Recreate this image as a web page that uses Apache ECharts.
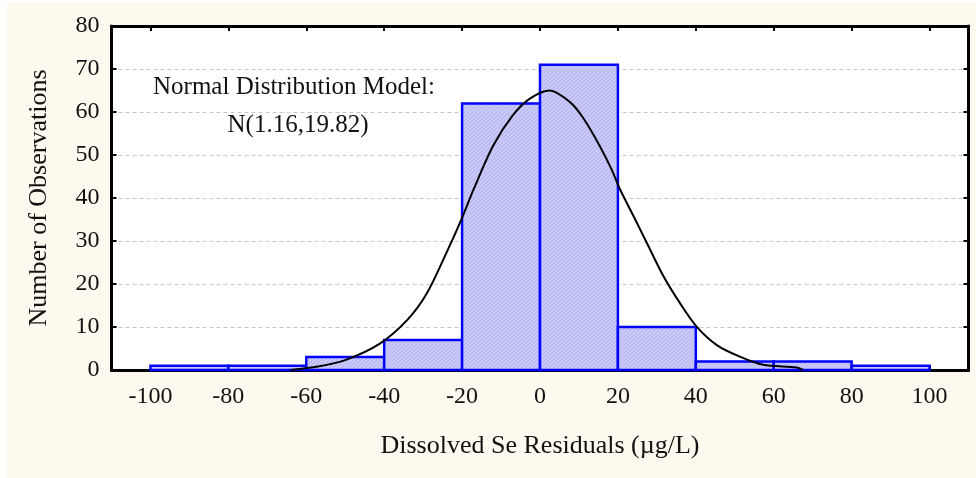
<!DOCTYPE html>
<html>
<head>
<meta charset="utf-8">
<script src="https://cdn.jsdelivr.net/npm/echarts@6/dist/echarts.min.js"></script>
<style>
  html, body { margin: 0; padding: 0; background: #ffffff; }
  #chart { position: absolute; left: 7px; top: 2px; width: 969px; height: 476px; }
</style>
</head>
<body>
<div id="chart"></div>
<script>
// histogram bins (lower edge, width 20) and counts
const binStart = [-100, -80, -60, -40, -20, 0, 20, 40, 60, 80];
const binWidth = 20;
const binCount = [1, 1, 3, 7, 62, 71, 10, 2, 2, 1];

// fitted normal curve
const curveX = [-64, -57, -50, -41, -34, -29, -24, -20, -17, -12, -7, -2.6, 2.5, 7.7, 11.1, 15.4, 18.4, 20.5, 24, 27.4, 31.7, 35.9, 40.2, 45.4, 51.3, 57.3, 65.9, 67.5];
const curveY = [0, 0.8, 2.3, 6.2, 11.7, 17.9, 27.3, 35.4, 42.1, 52.2, 59.2, 63.1, 65, 62.3, 58.6, 52.0, 46.6, 42.1, 35.8, 29.6, 21.8, 15.6, 10.1, 5.8, 3.1, 1.2, 0.6, 0];

const xTicks = [-100, -80, -60, -40, -20, 0, 20, 40, 60, 80, 100];

const serif = '"Liberation Serif", "DejaVu Serif", serif';

// fine diagonal hatch used by the bars
function hatch() {
  const c = document.createElement('canvas');
  c.width = 4; c.height = 4;
  const g = c.getContext('2d');
  g.fillStyle = '#cacafa';
  g.fillRect(0, 0, 4, 4);
  g.strokeStyle = '#b0b0f0';
  g.lineWidth = 1;
  g.beginPath();
  g.moveTo(0, 4); g.lineTo(4, 0);
  g.stroke();
  return c;
}

const bars = binStart.map((s, i) => [s, s + binWidth, binCount[i]]);
const curve = curveX.map((x, i) => [x, curveY[i]]);

const axisLine = { show: true, onZero: false, lineStyle: { color: '#000', width: 3 } };
const tickStyle = { color: '#000', width: 2 };

const myChart = echarts.init(document.getElementById('chart'));
myChart.setOption({
  backgroundColor: '#fef9ee',
  animation: false,
  grid: { left: 104.5, right: 7.5, top: 24, bottom: 108, backgroundColor: '#ffffff', show: true, borderWidth: 0 },
  xAxis: [
    {
      type: 'value', min: -110, max: 110,
      name: 'Dissolved Se Residuals (\u00b5g/L)',
      nameLocation: 'middle', nameGap: 63,
      nameTextStyle: { fontFamily: serif, fontSize: 26, color: '#111' },
      axisLine: axisLine,
      axisTick: { inside: true, length: 5, customValues: xTicks, lineStyle: tickStyle },
      axisLabel: { customValues: xTicks, margin: 15, fontFamily: serif, fontSize: 24, color: '#111' },
      splitLine: { show: false }
    },
    {
      type: 'value', min: -110, max: 110, position: 'top',
      axisLine: axisLine,
      axisTick: { inside: true, length: 5, customValues: xTicks, lineStyle: tickStyle },
      axisLabel: { show: false },
      splitLine: { show: false }
    }
  ],
  yAxis: [
    {
      type: 'value', min: 0, max: 80, interval: 10,
      name: 'Number of Observations',
      nameLocation: 'middle', nameGap: 59,
      nameTextStyle: { fontFamily: serif, fontSize: 26, color: '#111' },
      axisLine: axisLine,
      axisTick: { show: true, inside: true, length: 5, lineStyle: tickStyle },
      axisLabel: { margin: 12, fontFamily: serif, fontSize: 24, color: '#111' },
      splitLine: { show: true, lineStyle: { color: '#c8c8c8', type: [4, 3], width: 1 } }
    },
    {
      type: 'value', min: 0, max: 80, interval: 10, position: 'right',
      axisLine: axisLine,
      axisTick: { show: true, inside: true, length: 5, lineStyle: tickStyle },
      axisLabel: { show: false },
      splitLine: { show: false }
    }
  ],
  graphic: [
    {
      type: 'text', z: 100,
      style: {
        x: 287, y: 85,
        text: 'Normal Distribution Model:',
        font: '25px ' + serif, fill: '#111',
        align: 'center', verticalAlign: 'middle'
      }
    },
    {
      type: 'text', z: 100,
      style: {
        x: 291, y: 123,
        text: 'N(1.16,19.82)',
        font: '25px ' + serif, fill: '#111',
        align: 'center', verticalAlign: 'middle'
      }
    }
  ],
  series: [
    {
      type: 'custom',
      xAxisIndex: 0, yAxisIndex: 0,
      data: bars,
      encode: { x: [0, 1], y: 2 },
      renderItem(params, api) {
        const p0 = api.coord([api.value(0), api.value(2)]);
        const p1 = api.coord([api.value(1), 0]);
        return {
          type: 'rect',
          shape: { x: p0[0], y: p0[1], width: p1[0] - p0[0], height: p1[1] - p0[1] },
          style: { fill: { image: hatch(), repeat: 'repeat' }, stroke: '#0000ff', lineWidth: 2.5 }
        };
      },
      z: 2
    },
    {
      type: 'line',
      xAxisIndex: 0, yAxisIndex: 0,
      data: curve,
      symbol: 'none',
      smooth: 0.3,
      lineStyle: { color: '#000', width: 2 },
      z: 3
    }
  ]
});
</script>
</body>
</html>
